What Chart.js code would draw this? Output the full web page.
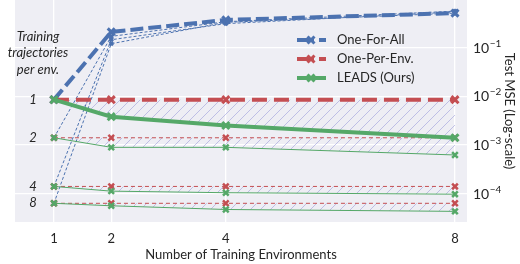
<!DOCTYPE html>
<html>
<head>
<meta charset="utf-8">
<script src="https://cdn.jsdelivr.net/npm/chart.js@4"></script>
<style>
  html, body { margin: 0; padding: 0; background: #fff; }
  #wrap { width: 520px; height: 264px; }
</style>
</head>
<body>
<div id="wrap"><canvas id="mseChart"></canvas></div>
<script>
// number of training environments (x) and trajectories per env (groups)
const envCounts = [1, 2, 4, 8];
const trajCounts = [1, 2, 4, 8];

// Test MSE, one array per method and trajectory count
const oneForAll1 = [8.5e-3, 0.21, 0.37, 0.51];
const oneForAll2 = [1.4e-3, 0.17, 0.34, 0.56];
const oneForAll4 = [1.4e-4, 0.145, 0.31, 0.54];
const oneForAll8 = [6.3e-5, 0.12, 0.33, 0.51];

const onePerEnv1 = [8.5e-3, 8.5e-3, 8.5e-3, 8.5e-3];
const onePerEnv2 = [1.4e-3, 1.4e-3, 1.4e-3, 1.4e-3];
const onePerEnv4 = [1.4e-4, 1.4e-4, 1.4e-4, 1.4e-4];
const onePerEnv8 = [6.3e-5, 6.3e-5, 6.3e-5, 6.3e-5];

const leads1 = [8.5e-3, 3.8e-3, 2.5e-3, 1.4e-3];
const leads2 = [1.4e-3, 8.9e-4, 8.9e-4, 6.2e-4];
const leads4 = [1.4e-4, 1.12e-4, 1.04e-4, 9.7e-5];
const leads8 = [6.3e-5, 5.6e-5, 4.7e-5, 4.3e-5];

const yTicks = [1e-4, 1e-3, 1e-2, 1e-1];
const yTickExp = ['\u22124', '\u22123', '\u22122', '\u22121'];
const legendLabels = ['One-For-All', 'One-Per-Env.', 'LEADS (Ours)'];

const BLUE = '#4c72b0';
const RED = '#c44e52';
const GREEN = '#55a868';
const TEXT = '#262626';
const FONT = 'Lato, "DejaVu Sans", sans-serif';

function pts(arr) {
    return arr.map((v, i) => ({ x: envCounts[i], y: v }));
}

// diagonal hatch used between One-Per-Env and LEADS
function makeHatch() {
    const c = document.createElement('canvas');
    c.width = 10; c.height = 10;
    const g = c.getContext('2d');
    g.strokeStyle = 'rgba(130, 130, 210, 0.45)';
    g.lineWidth = 1;
    g.beginPath();
    g.moveTo(0, 10); g.lineTo(10, 0);
    g.moveTo(-1, 1); g.lineTo(1, -1);
    g.moveTo(9, 11); g.lineTo(11, 9);
    g.stroke();
    return g.createPattern(c, 'repeat');
}
const hatch = makeHatch();

function thick(label, data, color, dash, order) {
    return {
        label, data: pts(data), borderColor: color, backgroundColor: 'transparent',
        borderWidth: 4, borderDash: dash, pointStyle: 'crossRot', pointRadius: 5,
        pointBorderWidth: 3, pointBorderColor: color, tension: 0, fill: false, order
    };
}
function thin(label, data, color, dash, order, radius) {
    return {
        label, data: pts(data), borderColor: color, backgroundColor: 'transparent',
        borderWidth: 1, borderDash: dash, pointStyle: 'crossRot', pointRadius: radius,
        pointBorderWidth: 2.5, pointBorderColor: color, tension: 0, fill: false, order
    };
}

const datasets = [
    thick('One-For-All', oneForAll1, BLUE, [13, 5], 1),
    thick('One-Per-Env.', onePerEnv1, RED, [15, 7], 2),
    thick('LEADS (Ours)', leads1, GREEN, [], 0),
    thin('ofa2', oneForAll2, BLUE, [3, 2], 5, 2.5),
    thin('ofa4', oneForAll4, BLUE, [3, 2], 5, 2.5),
    thin('ofa8', oneForAll8, BLUE, [3, 2], 5, 2.5),
    thin('ope2', onePerEnv2, RED, [4, 3], 4, 4),
    thin('ope4', onePerEnv4, RED, [4, 3], 4, 4),
    thin('ope8', onePerEnv8, RED, [4, 3], 4, 4),
    thin('leads2', leads2, GREEN, [], 3, 4),
    thin('leads4', leads4, GREEN, [], 3, 4),
    thin('leads8', leads8, GREEN, [], 3, 4)
];
// hatched band between each One-Per-Env line and its LEADS line
datasets[1].fill = { target: 2, above: hatch, below: hatch };
datasets[6].fill = { target: 9, above: hatch, below: hatch };
datasets[7].fill = { target: 10, above: hatch, below: hatch };
datasets[8].fill = { target: 11, above: hatch, below: hatch };

const bgPlugin = {
    id: 'plotBg',
    beforeDraw(chart) {
        const { ctx, chartArea: a } = chart;
        ctx.save();
        ctx.fillStyle = '#eeeef4';
        ctx.fillRect(a.left, a.top, a.right - a.left, a.bottom - a.top);
        ctx.restore();
    }
};

function drawMarker(ctx, x, y, r, color, w) {
    ctx.save();
    ctx.setLineDash([]);
    ctx.strokeStyle = color;
    ctx.lineWidth = w;
    ctx.beginPath();
    ctx.moveTo(x - r, y - r); ctx.lineTo(x + r, y + r);
    ctx.moveTo(x - r, y + r); ctx.lineTo(x + r, y - r);
    ctx.stroke();
    ctx.restore();
}

const textPlugin = {
    id: 'texts',
    afterDraw(chart) {
        const { ctx, chartArea: a } = chart;
        const ys = chart.scales.y;
        ctx.save();
        ctx.fillStyle = TEXT;

        // right axis ticks 10^n
        yTicks.forEach((v, i) => {
            const y = ys.getPixelForValue(v);
            ctx.font = '14px ' + FONT;
            ctx.textAlign = 'left';
            ctx.textBaseline = 'alphabetic';
            ctx.fillText('10', 473, y + 5);
            const w = ctx.measureText('10').width;
            ctx.font = '10px ' + FONT;
            ctx.fillText(yTickExp[i], 473 + w + 0.5, y - 1);
        });

        // right axis title
        ctx.save();
        ctx.translate(509, (a.top + a.bottom) / 2);
        ctx.rotate(Math.PI / 2);
        ctx.font = '13px ' + FONT;
        ctx.textAlign = 'center';
        ctx.textBaseline = 'middle';
        ctx.fillText('Test MSE (Log-scale)', 0, 0);
        ctx.restore();

        // x title
        ctx.font = '13px ' + FONT;
        ctx.textAlign = 'center';
        ctx.textBaseline = 'middle';
        ctx.fillText('Number of Training Environments', (a.left + a.right) / 2, 255);

        // trajectories-per-env labels
        ctx.font = 'italic 13px ' + FONT;
        ctx.fillText('Training', 38, 37);
        ctx.fillText('trajectories', 38, 53);
        ctx.fillText('per env.', 38, 70);
        const starts = [leads1[0], leads2[0], leads4[0], leads8[0]];
        trajCounts.forEach((t, i) => {
            ctx.fillText(String(t), 33, ys.getPixelForValue(starts[i]));
        });

        // legend
        const rows = [40, 59, 78];
        const styles = [
            { color: BLUE, dash: [17, 5, 7, 20] },
            { color: RED, dash: [17, 5, 7, 20] },
            { color: GREEN, dash: [] }
        ];
        styles.forEach((s, i) => {
            const y = rows[i];
            ctx.save();
            ctx.strokeStyle = s.color;
            ctx.lineWidth = 4;
            ctx.setLineDash(s.dash);
            ctx.beginPath();
            ctx.moveTo(297, y); ctx.lineTo(326, y);
            ctx.stroke();
            ctx.restore();
            drawMarker(ctx, 311, y, 3.5, s.color, 3);
            ctx.font = '13px ' + FONT;
            ctx.textAlign = 'left';
            ctx.textBaseline = 'middle';
            ctx.fillStyle = TEXT;
            ctx.fillText(legendLabels[i], 337, y);
        });
        ctx.restore();
    }
};

function noPad(s) {
    s.paddingTop = 0; s.paddingBottom = 0; s.paddingLeft = 0; s.paddingRight = 0;
}

new Chart(document.getElementById('mseChart'), {
    type: 'line',
    data: { datasets },
    options: {
        responsive: true,
        maintainAspectRatio: false,
        animation: false,
        layout: { autoPadding: false, padding: { left: 15, right: 0, top: 0, bottom: 0 } },
        plugins: { legend: { display: false }, tooltip: { enabled: false } },
        scales: {
            x: {
                type: 'linear', min: 0.32, max: 8.21,
                afterBuildTicks: s => { s.ticks = envCounts.map(v => ({ value: v })); },
                afterFit: s => { s.height = 42; noPad(s); },
                grid: { color: '#ffffff', lineWidth: 1.3, drawTicks: false },
                border: { display: false },
                ticks: { color: TEXT, font: { family: FONT, size: 13 }, padding: 9 }
            },
            y: {
                type: 'logarithmic', position: 'right', min: 2.6e-5, max: 0.95,
                afterBuildTicks: s => { s.ticks = yTicks.map(v => ({ value: v })); },
                afterFit: s => { s.width = 53; noPad(s); },
                grid: { color: '#ffffff', lineWidth: 1.3, drawTicks: false },
                border: { display: false },
                ticks: { display: false }
            }
        }
    },
    plugins: [bgPlugin, textPlugin]
});
</script>
</body>
</html>
